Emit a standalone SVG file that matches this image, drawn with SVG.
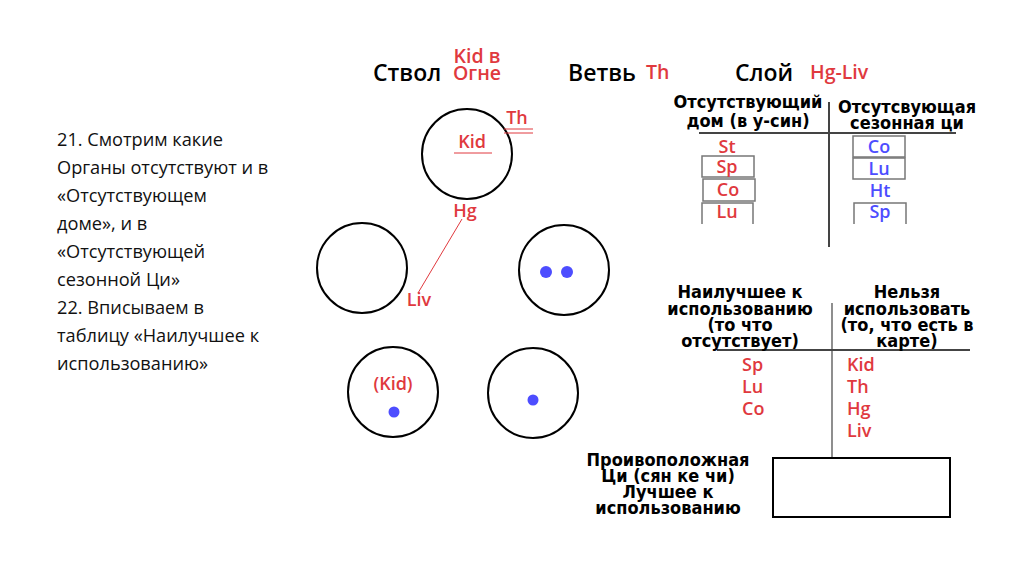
<svg xmlns="http://www.w3.org/2000/svg" width="1024" height="576" viewBox="0 0 1024 576">
<style>
.bg{fill:#fff}
.circ{fill:none;stroke:#000;stroke-width:2}
.dot{fill:#4d4dff}
.head{font-family:"Open Sans","DejaVu Sans",sans-serif;font-weight:600;font-size:23px;fill:#000}
.red{font-family:"Open Sans","DejaVu Sans",sans-serif;font-weight:600;font-size:18px;fill:#e0393e}
.big{font-size:19.5px}
.blue{font-family:"Open Sans","DejaVu Sans",sans-serif;font-weight:600;font-size:18px;fill:#4d4dff}
.th{font-family:"DejaVu Sans Condensed","DejaVu Sans",sans-serif;font-weight:bold;font-size:18px;fill:#000;text-anchor:middle}
.para{font-family:"Open Sans","DejaVu Sans",sans-serif;font-size:18.2px;fill:#111}
.rule{stroke:#444;stroke-width:2;fill:none}
.box{fill:none;stroke:#777;stroke-width:1.5}
.redline{stroke:#e0393e;stroke-width:1}
.mid{text-anchor:middle}
</style>
<rect class="bg" x="0" y="0" width="1024" height="576"/>

<g id="paragraph">
<text class="para" x="57" y="146">21. Смотрим какие</text>
<text class="para" x="57" y="174">Органы отсутствуют и в</text>
<text class="para" x="57" y="202">«Отсутствующем</text>
<text class="para" x="57" y="230">доме», и в</text>
<text class="para" x="57" y="258">«Отсутствующей</text>
<text class="para" x="57" y="286">сезонной Ци»</text>
<text class="para" x="57" y="314">22. Вписываем в</text>
<text class="para" x="57" y="342">таблицу «Наилучшее к</text>
<text class="para" x="57" y="370">использованию»</text>
</g>

<g id="headers">
<text class="head" x="373" y="81">Ствол</text>
<text class="red big" x="477" y="63" text-anchor="middle">Kid в</text>
<text class="red big" x="477" y="80" text-anchor="middle">Огне</text>
<text class="head" x="568" y="81">Ветвь</text>
<text class="red big" x="646" y="79">Th</text>
<text class="head" x="735" y="81">Слой</text>
<text class="red big" x="810" y="79">Hg-Liv</text>
</g>

<g id="circle-top">
<circle class="circ" cx="467" cy="154" r="45"/>
<text class="red mid" x="472" y="148">Kid</text>
<line class="redline" x1="454" y1="153" x2="492" y2="153"/>
<text class="red mid" x="517" y="124">Th</text>
<line class="redline" x1="504" y1="129" x2="533" y2="129"/>
<line class="redline" x1="504" y1="133" x2="533" y2="133"/>
<text class="red mid" x="465" y="217">Hg</text>
</g>
<g id="circle-left">
<circle class="circ" cx="362" cy="268" r="45"/>
<text class="red mid" x="419" y="306">Liv</text>
</g>
<g id="circle-right">
<circle class="circ" cx="564" cy="270" r="45"/>
<circle class="dot" cx="546" cy="272" r="6"/>
<circle class="dot" cx="567" cy="272" r="6"/>
</g>
<g id="circle-bottom-left">
<circle class="circ" cx="393" cy="392" r="45"/>
<text class="red mid" x="393" y="390">(Kid)</text>
<circle class="dot" cx="394" cy="412" r="5.5"/>
</g>
<g id="circle-bottom-right">
<circle class="circ" cx="533" cy="393" r="45"/>
<circle class="dot" cx="533" cy="400" r="5.5"/>
</g>

<g id="connectors">
<line class="redline" x1="462" y1="219" x2="418" y2="293"/>
<line class="rule" x1="699" y1="133" x2="956" y2="133"/>
<line class="rule" x1="829" y1="102" x2="829" y2="247"/>
<line class="rule" x1="717" y1="350" x2="970" y2="350"/>
<line class="rule" x1="832" y1="303" x2="832" y2="458" style="stroke-width:1.2"/>
</g>

<g id="table-absent">
<text class="th" x="748" y="108">Отсутствующий</text>
<text class="th" x="748" y="127">дом (в у-син)</text>
<text class="th" x="907" y="113">Отсутсвующая</text>
<text class="th" x="907" y="129">сезонная ци</text>
<text class="red mid" x="727" y="153">St</text>
<rect class="box" x="702" y="156" width="52" height="21"/>
<text class="red mid" x="727" y="173">Sp</text>
<rect class="box" x="703" y="179" width="52" height="22"/>
<text class="red mid" x="728" y="196">Co</text>
<path class="box" d="M702 224 V203 H753 V224"/>
<text class="red mid" x="727" y="218">Lu</text>
<rect class="box" x="853" y="136" width="52" height="21"/>
<text class="blue mid" x="879" y="153">Co</text>
<rect class="box" x="853" y="158" width="52" height="21"/>
<text class="blue mid" x="879" y="175">Lu</text>
<text class="blue mid" x="880" y="197">Ht</text>
<path class="box" d="M854 224 V203 H906 V224"/>
<text class="blue mid" x="880" y="218">Sp</text>
</g>

<g id="table-best">
<text class="th" x="740" y="298">Наилучшее к</text>
<text class="th" x="740" y="315">использованию</text>
<text class="th" x="740" y="331">(то что</text>
<text class="th" x="740" y="347">отсутствует)</text>
<text class="th" x="907" y="298">Нельзя</text>
<text class="th" x="907" y="315">использовать</text>
<text class="th" x="907" y="331">(то, что есть в</text>
<text class="th" x="907" y="347">карте)</text>
<text class="red" x="742" y="371">Sp</text>
<text class="red" x="742" y="393">Lu</text>
<text class="red" x="742" y="415">Co</text>
<text class="red" x="847" y="371">Kid</text>
<text class="red" x="847" y="393">Th</text>
<text class="red" x="847" y="415">Hg</text>
<text class="red" x="847" y="437">Liv</text>
</g>

<g id="opposite">
<text class="th" x="668" y="466">Проивоположная</text>
<text class="th" x="668" y="482">Ци (сян ке чи)</text>
<text class="th" x="668" y="498">Лучшее к</text>
<text class="th" x="668" y="514">использованию</text>
<rect x="773" y="458" width="177" height="59" fill="none" stroke="#000" stroke-width="2"/>
</g>
</svg>
